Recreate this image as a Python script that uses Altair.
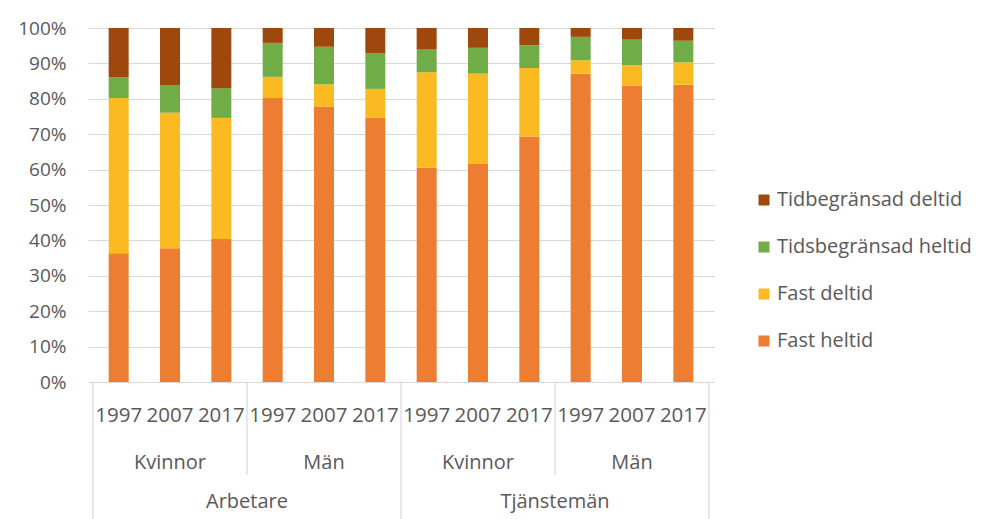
import altair as alt
import pandas as pd

years = ["1997", "2007", "2017"] * 4
genders = ["Kvinnor"] * 3 + ["Män"] * 3 + ["Kvinnor"] * 3 + ["Män"] * 3
groups = ["Arbetare"] * 6 + ["Tjänstemän"] * 6

series = ["Fast heltid", "Fast deltid", "Tidsbegränsad heltid", "Tidbegränsad deltid"]
colors = ["#ED7D31", "#FBBA22", "#70AD47", "#9E480E"]

fast_heltid = [36.4, 37.8, 40.4, 80.2, 77.8, 74.6, 60.5, 61.6, 69.3, 87.1, 83.7, 84.0]
fast_deltid = [43.8, 38.3, 34.2, 6.0, 6.3, 8.2, 27.0, 25.5, 19.4, 3.8, 5.8, 6.3]
tids_heltid = [5.8, 7.8, 8.4, 9.6, 10.6, 10.0, 6.4, 7.3, 6.4, 6.6, 7.2, 6.1]
tid_deltid = [14.0, 16.1, 17.0, 4.2, 5.3, 7.2, 6.1, 5.6, 4.9, 2.5, 3.3, 3.6]

gender_labels = ["Kvinnor", "Män", "Kvinnor", "Män"]
group_labels = ["Arbetare", "Tjänstemän"]

FONT = "Open Sans"
GREY = "#595959"
W, H = 626, 354

rows = []
for i in range(12):
    for s_i, (s, vals) in enumerate(zip(series, [fast_heltid, fast_deltid, tids_heltid, tid_deltid])):
        rows.append({"pos": i + 0.5, "serie": s, "order": s_i, "value": vals[i]})
df = pd.DataFrame(rows)

xscale = alt.Scale(domain=[0, 12], nice=False, zero=False)

bars = alt.Chart(df).mark_bar(size=20).encode(
    x=alt.X("pos:Q", scale=xscale, axis=None),
    y=alt.Y("value:Q", stack="normalize",
            scale=alt.Scale(domain=[0, 1]),
            axis=alt.Axis(format=".0%", values=[i / 10 for i in range(11)], title=None,
                          labelFont=FONT, labelFontSize=19, labelColor=GREY,
                          labelPadding=22, ticks=False, domain=False,
                          gridColor="#D9D9D9", gridWidth=1)),
    color=alt.Color("serie:N", scale=alt.Scale(domain=series[::-1], range=colors[::-1]),
                    legend=alt.Legend(title=None, orient="none", legendX=666, legendY=162,
                                      symbolType="square", symbolSize=121, symbolStrokeWidth=0,
                                      labelFont=FONT, labelFontSize=20, labelColor=GREY,
                                      labelLimit=0, rowPadding=27, labelOffset=3)),
    order=alt.Order("order:Q"),
)

year_df = pd.DataFrame({"pos": [i + 0.5 for i in range(12)], "label": years})
year_text = alt.Chart(year_df).mark_text(font=FONT, fontSize=20.5, color=GREY, baseline="middle").encode(
    x=alt.X("pos:Q", scale=xscale), y=alt.value(388), text="label:N")

gender_df = pd.DataFrame({"pos": [1.5, 4.5, 7.5, 10.5], "label": gender_labels})
gender_text = alt.Chart(gender_df).mark_text(font=FONT, fontSize=20, color=GREY, baseline="middle").encode(
    x=alt.X("pos:Q", scale=xscale), y=alt.value(435), text="label:N")

group_df = pd.DataFrame({"pos": [3, 9], "label": group_labels})
group_text = alt.Chart(group_df).mark_text(font=FONT, fontSize=20, color=GREY, baseline="middle").encode(
    x=alt.X("pos:Q", scale=xscale), y=alt.value(474), text="label:N")

full_df = pd.DataFrame({"pos": [0, 6, 12]})
short_df = pd.DataFrame({"pos": [3, 9]})
full_rules = alt.Chart(full_df).mark_rule(color="#D0D0D0", strokeWidth=1).encode(
    x=alt.X("pos:Q", scale=xscale), y=alt.value(H), y2=alt.value(491))
short_rules = alt.Chart(short_df).mark_rule(color="#D0D0D0", strokeWidth=1).encode(
    x=alt.X("pos:Q", scale=xscale), y=alt.value(H), y2=alt.value(447))

chart = alt.layer(bars, full_rules, short_rules, year_text, gender_text, group_text).properties(
    width=W, height=H, autosize=alt.AutoSizeParams(type="none"),
    padding={"left": 80, "top": 20, "right": 261, "bottom": 137},
).configure_view(stroke=None)

chart.save("out.html", embed_options={"renderer": "svg", "actions": False})
